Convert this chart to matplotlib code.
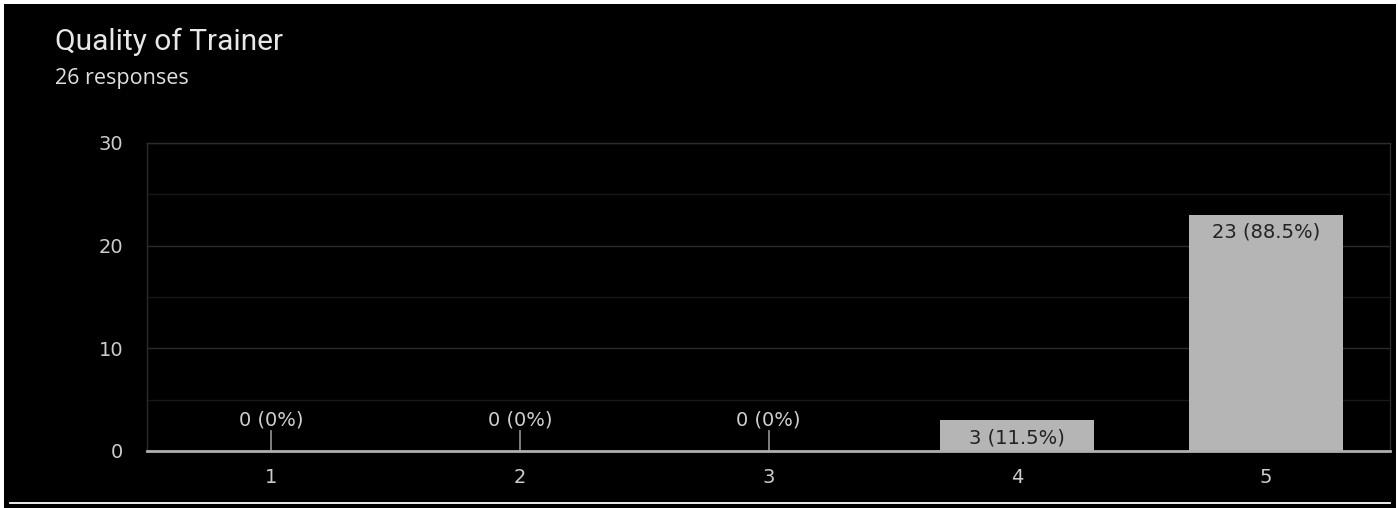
import matplotlib
matplotlib.use('Agg')
import matplotlib.pyplot as plt
from matplotlib.patches import Rectangle
from matplotlib.lines import Line2D

# data
categories = ['1', '2', '3', '4', '5']
counts = [0, 0, 0, 3, 23]
labels = ['0 (0%)', '0 (0%)', '0 (0%)', '3 (11.5%)', '23 (88.5%)']
y_ticks = [0, 10, 20, 30]

title = 'Quality of Trainer'
subtitle = '26 responses'

W, H = 1398, 508
fig = plt.figure(figsize=(W / 100, H / 100), dpi=100, facecolor='white')

# black panel with a thin white frame around it
fig.patches.append(Rectangle((4 / W, 0), (1396 - 4) / W, 1 - 4 / H,
                             transform=fig.transFigure, facecolor='black',
                             edgecolor='none', zorder=-5))
fig.lines.append(Line2D([10 / W, 1390 / W], [1 - 503 / H, 1 - 503 / H],
                        transform=fig.transFigure, color='white', lw=1.3))

fig.text(55 / W, 1 - 50 / H, title, fontsize=21.5, color='#e8e8e8',
         family=['Roboto', 'DejaVu Sans'], va='baseline')
fig.text(55 / W, 1 - 84 / H, subtitle, fontsize=15.5, color='#e0e0e0',
         family=['Open Sans', 'DejaVu Sans'], va='baseline')

ax = fig.add_axes([147 / W, 1 - 451 / H, (1390 - 147) / W, (451 - 143) / H])
ax.set_zorder(2)
ax.set_facecolor('black')

lab_font = ['DejaVu Sans']
x = list(range(1, len(categories) + 1))
ax.bar(x, counts, width=0.62, color='#b5b5b5', zorder=3)

for xi, c, lab in zip(x, counts, labels):
    if c == 0:
        ax.plot([xi, xi], [0, 1.95], color='#8a8a8a', lw=1.3, zorder=4)
        ax.annotate(lab, (xi, 0), xytext=(0, 22), textcoords='offset points',
                    ha='center', va='center', fontsize=14, color='#d0d0d0',
                    family=lab_font)
    else:
        ax.annotate(lab, (xi, c), xytext=(0, -12.5), textcoords='offset points',
                    ha='center', va='center', fontsize=14, color='#222222',
                    family=lab_font, zorder=5)

ax.set_xlim(0.5, len(categories) + 0.5)
ax.set_ylim(0, 30)
ax.set_xticks(x)
ax.set_xticklabels(categories)
ax.set_yticks(y_ticks)
ax.set_yticks([5, 15, 25], minor=True)

ax.grid(axis='y', which='major', color='#2b2b2b', lw=1, zorder=0)
ax.grid(axis='y', which='minor', color='#181818', lw=1, zorder=0)
ax.grid(axis='x', visible=False)
ax.set_axisbelow(True)

for t in ax.get_xticklabels() + ax.get_yticklabels():
    t.set_family(lab_font)
ax.tick_params(axis='both', which='both', length=0, labelsize=14,
               colors='#cccccc')
ax.tick_params(axis='y', pad=17)
ax.tick_params(axis='x', pad=12.5)

for side in ['left', 'right', 'top']:
    ax.spines[side].set_color('#2b2b2b')
    ax.spines[side].set_linewidth(1)
ax.spines['bottom'].set_color('#b0b0b0')
ax.spines['bottom'].set_linewidth(2)
ax.spines['bottom'].set_zorder(6)

fig.savefig('out.png', dpi=100, facecolor=fig.get_facecolor())
